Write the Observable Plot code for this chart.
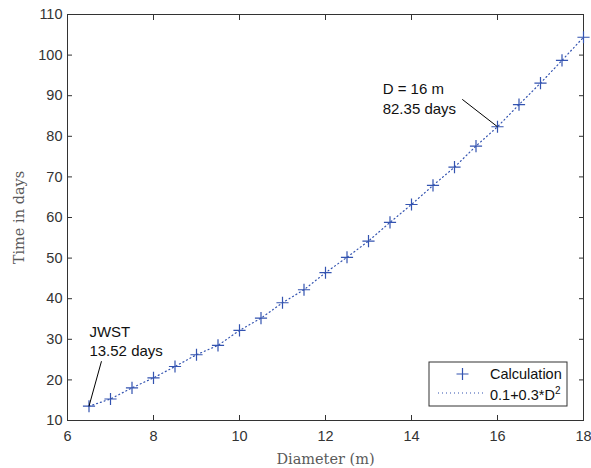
<!DOCTYPE html>
<html><head><meta charset="utf-8">
<script src="https://cdn.jsdelivr.net/npm/d3@7"></script>
<script src="https://cdn.jsdelivr.net/npm/@observablehq/plot@0.6"></script>
<style>
body{margin:0;background:#fff}
#chart{position:relative;width:591px;height:468px}
</style>
</head><body><div id="chart"></div>
<script>
// Data
const diameters = [6.5,7,7.5,8,8.5,9,9.5,10,10.5,11,11.5,12,12.5,13,13.5,14,14.5,15,15.5,16,16.5,17,17.5,18];
const days = [13.52,15.3,18.05,20.5,23.3,26.2,28.5,32.2,35.2,39.0,42.2,46.4,50.2,54.2,58.8,63.2,67.9,72.4,77.6,82.35,87.8,93.1,98.7,104.4];
const xTicks = [6,8,10,12,14,16,18];
const yTicks = [10,20,30,40,50,60,70,80,90,100,110];
const seriesNames = ["Calculation", "0.1+0.3*D"];
const annotationLabels = ["JWST\n13.52 days", "D = 16 m\n82.35 days"];
const annotationTextX = [6.51, 13.33];
const annotationTextY = [25.8, 85.6];
const annotationFromX = [6.79, 15.18];
const annotationFromY = [24.6, 89.1];
const annotationToX = [6.5, 16];
const annotationToY = [13.52, 82.35];

const pts = diameters.map((d, i) => ({d, t: days[i]}));
const ann = annotationLabels.map((s, i) => ({s, tx: annotationTextX[i], ty: annotationTextY[i],
  fx: annotationFromX[i], fy: annotationFromY[i], ex: annotationToX[i], ey: annotationToY[i]}));

const blue = "#3353b0";
const ink = "#333333";
const sans = "'Liberation Sans', Arial, Helvetica, sans-serif";
const serif = "'DejaVu Serif', 'Liberation Serif', serif";

const chart = Plot.plot({
  width: 591, height: 468,
  marginLeft: 67, marginRight: 8, marginTop: 14, marginBottom: 48,
  style: {fontFamily: sans, background: "#fff"},
  x: {domain: [6, 18]},
  y: {domain: [10, 110]},
  marks: [
    Plot.axisX(xTicks, {anchor: "bottom", tickSize: -5, tickPadding: 15, label: null, fontSize: 14.5, color: ink}),
    Plot.axisX(xTicks, {anchor: "top", tickSize: -5, tickFormat: () => "", label: null, color: ink}),
    Plot.axisY(yTicks, {anchor: "left", tickSize: -5, tickPadding: 10, label: null, fontSize: 14.5, color: ink}),
    Plot.axisY(yTicks, {anchor: "right", tickSize: -5, tickFormat: () => "", label: null, color: ink}),
    Plot.frame({stroke: ink}),
    Plot.line(pts, {x: "d", y: "t", stroke: blue, strokeWidth: 1.2, strokeDasharray: "1,3"}),
    Plot.dot(pts, {x: "d", y: "t", symbol: "plus", r: 4, stroke: blue, strokeWidth: 1.2}),
    Plot.link(ann, {x1: "fx", y1: "fy", x2: "ex", y2: "ey", stroke: "#000", strokeWidth: 1}),
    Plot.text(ann, {x: "tx", y: "ty", text: "s", textAnchor: "start", lineAnchor: "bottom", lineHeight: 1.29, fontSize: 15, fill: "#111"}),
    Plot.text(["Diameter (m)"], {frameAnchor: "bottom", dy: 43, textAnchor: "middle", lineAnchor: "bottom", text: d => d, fontFamily: serif, fontSize: 14.5, fill: "#5a5a5a"}),
    Plot.text(["Time in days"], {frameAnchor: "left", dx: -48, textAnchor: "middle", lineAnchor: "middle", rotate: -90, text: d => d, fontFamily: serif, fontSize: 14.5, fill: "#5a5a5a"})
  ]
});
document.getElementById("chart").appendChild(chart);

// Legend box drawn inside the SVG
const svg = d3.select(chart);
const lg = svg.append("g").attr("transform", "translate(429,362)")
  .attr("font-family", sans).attr("font-size", 14.5).attr("fill", "#111").attr("text-anchor", "start");
lg.append("rect").attr("width", 138).attr("height", 44).attr("fill", "#fff").attr("stroke", ink).attr("stroke-width", 1);
lg.append("path").attr("d", "M27.5,12H39.5M33.5,6V18").attr("stroke", blue).attr("stroke-width", 1.2).attr("fill", "none");
lg.append("line").attr("x1", 9).attr("x2", 54).attr("y1", 31).attr("y2", 31).attr("stroke", blue).attr("stroke-width", 1.2).attr("stroke-dasharray", "1,3");
lg.append("text").attr("x", 61).attr("y", 17).text(seriesNames[0]);
const t2 = lg.append("text").attr("x", 61).attr("y", 38).text(seriesNames[1]);
t2.append("tspan").attr("dy", -6).attr("font-size", 10).text("2");
</script>
</body></html>
